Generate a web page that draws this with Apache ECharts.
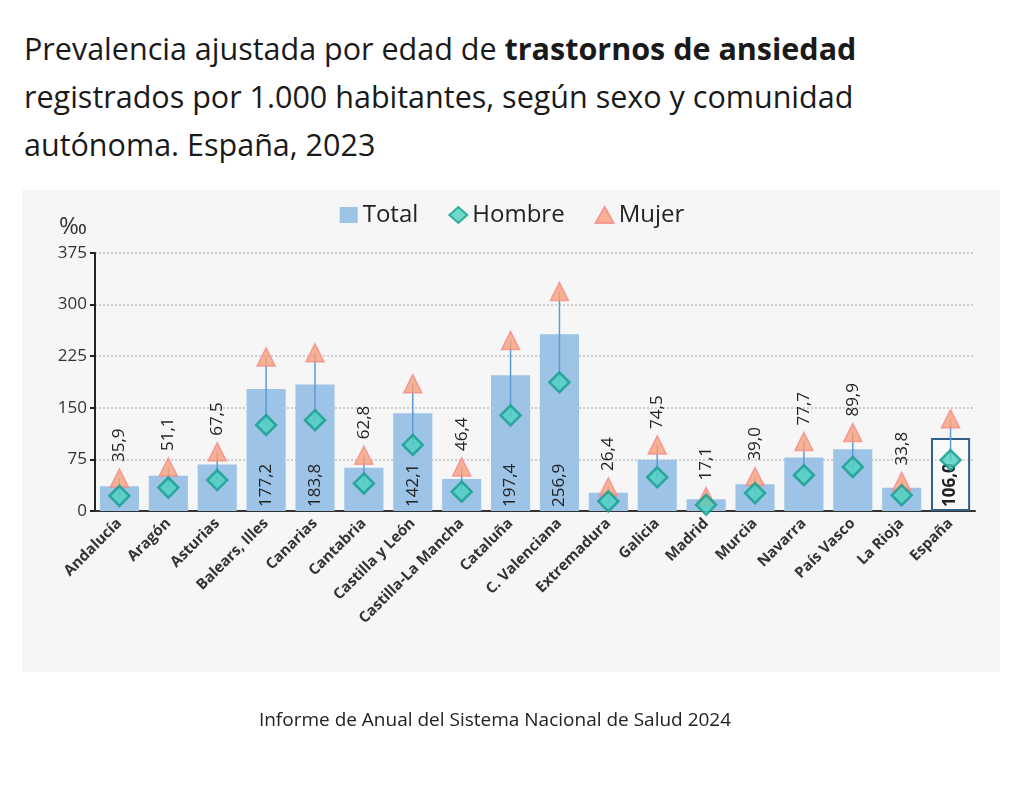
<!DOCTYPE html>
<html><head><meta charset="utf-8">
<script src="https://cdn.jsdelivr.net/npm/echarts@6/dist/echarts.min.js"></script>
<style>
body{margin:0;background:#fff;font-family:"Open Sans",sans-serif;}
#title{position:absolute;left:24px;top:24px;width:985px;font-size:30.5px;line-height:48px;color:#1a1a1a;}
#panel{position:absolute;left:22px;top:190px;width:978px;height:482px;background:#f6f6f6;}
#chart{position:absolute;left:0;top:0;width:1024px;height:800px;}
#src{position:absolute;left:0;width:990px;top:706px;text-align:center;font-size:19px;color:#222;}
</style></head><body>
<div id="title">Prevalencia ajustada por edad de <b>trastornos de ansiedad</b> registrados por 1.000 habitantes, según sexo y comunidad autónoma. España, 2023</div>
<div id="panel"></div>
<div id="chart"></div>
<div id="src">Informe de Anual del Sistema Nacional de Salud 2024</div>
<script>
var regions = ['Andalucía','Aragón','Asturias','Balears, Illes','Canarias','Cantabria','Castilla y León','Castilla-La Mancha','Cataluña','C. Valenciana','Extremadura','Galicia','Madrid','Murcia','Navarra','País Vasco','La Rioja','España'];
var total = [35.9,51.1,67.5,177.2,183.8,62.8,142.1,46.4,197.4,256.9,26.4,74.5,17.1,39.0,77.7,89.9,33.8,106.0];
var hombre = [22,34,45,125,132,40,96,28,139,187,14,49,9,26,52,64,23,74];
var mujer = [48,64,86,224,230,81,185,64,248,319,35,96,21,50,101,114,43,134];
var yTicks = [0,75,150,225,300,375];

var pxPerUnit = (800 - 253 - 289) / 375;
var chart = echarts.init(document.getElementById('chart'));
function fmt(v){ return v.toFixed(1).replace('.', ','); }
var barData = total.map(function(v, i){
  var big = v > 100;
  var last = i === total.length - 1;
  return {
    value: v,
    itemStyle: last ? {color:'rgba(255,255,255,0.3)', borderColor:'#2f5f8a', borderWidth:2} : {color:'#9dc3e6'},
    label: {
      show: true, rotate: 90, formatter: fmt(v),
      position: big ? 'insideBottom' : 'top',
      align: 'left', verticalAlign: 'middle',
      distance: big ? 4 : (mujer[i] - v) * pxPerUnit + 16,
      fontSize: 17, color: '#222', fontWeight: last ? 'bold' : 'normal'
    }
  };
});
chart.setOption({
  animation: false,
  textStyle: {fontFamily: 'Open Sans'},
  legend: {
    top: 198, left: 'center', itemGap: 30, itemWidth: 18, itemHeight: 16,
    textStyle: {fontSize: 24, color: '#222'},
    data: [{name:'Total', icon:'rect'}, {name:'Hombre'}, {name:'Mujer'}]
  },
  grid: {left: 95, right: 49, top: 253, bottom: 289},
  xAxis: {
    type: 'category', data: regions,
    axisLine: {lineStyle: {color: '#333', width: 2}},
    axisTick: {show: false},
    axisLabel: {rotate: 45, fontSize: 15, fontWeight: 'bold', color: '#333', interval: 0, margin: 10}
  },
  yAxis: {
    type: 'value', min: 0, max: 375, interval: 75,
    name: '‰', nameLocation: 'end', nameGap: 14,
    nameTextStyle: {fontSize: 24, color: '#333', align: 'right', padding: [0, 8, 0, 0]},
    axisLine: {show: true, lineStyle: {color: '#222', width: 2}},
    axisTick: {show: true, length: 5, lineStyle: {color: '#222', width: 2}},
    axisLabel: {fontSize: 17, color: '#333', customValues: yTicks},
    splitLine: {lineStyle: {color: '#ccc', type: 'dotted', width: 2}}
  },
  series: [
    {name: 'Total', type: 'bar', data: barData, barWidth: '80%', itemStyle: {color: '#9dc3e6'}, z: 1},
    {
      type: 'custom', z: 2, silent: true,
      data: hombre.map(function(h, i){ return [i, h, mujer[i]]; }),
      renderItem: function(params, api){
        var a = api.coord([api.value(0), api.value(1)]);
        var b = api.coord([api.value(0), api.value(2)]);
        return {type: 'line', shape: {x1: a[0], y1: a[1], x2: b[0], y2: b[1]}, style: {stroke: '#5b9bd5', lineWidth: 1.5}};
      }
    },
    {name: 'Hombre', type: 'scatter', data: hombre, symbol: 'diamond', symbolSize: 20, z: 4,
      itemStyle: {color: '#4fd1c0', borderColor: '#149c8c', borderWidth: 2.5}},
    {name: 'Mujer', type: 'scatter', data: mujer, symbol: 'triangle', symbolSize: 18, z: 3,
      itemStyle: {color: '#f7a07a', borderColor: '#f48a8a', borderWidth: 1.5}}
  ]
});
</script>
</body></html>
